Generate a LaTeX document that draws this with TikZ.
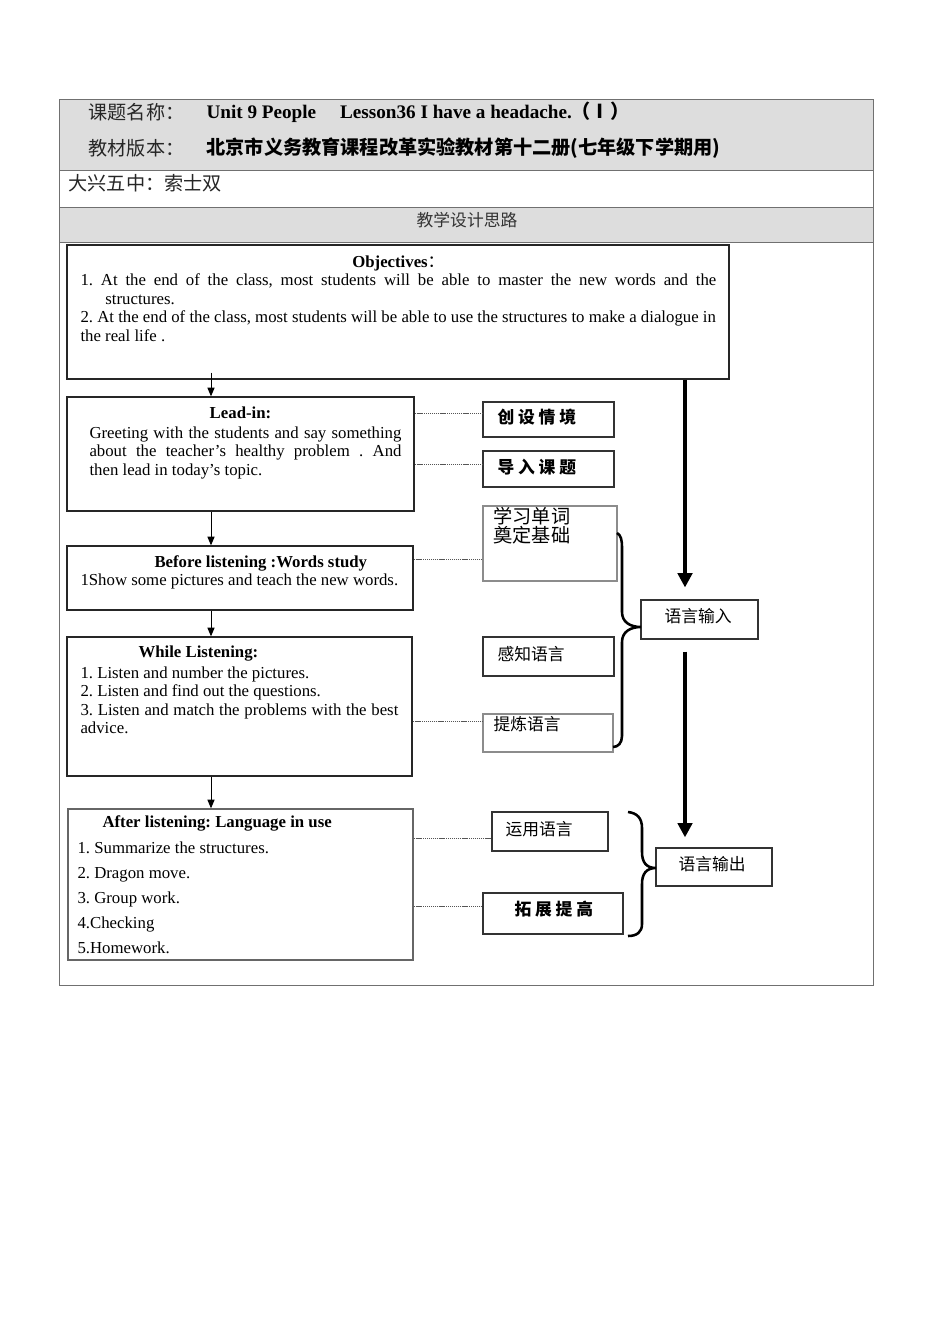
\documentclass[tikz,border=0pt]{standalone}
\usepackage{fontspec}
\setmainfont{Liberation Serif}
\newfontfamily\cjk{Noto Sans CJK SC}
\usetikzlibrary{arrows.meta,fit}
\definecolor{rowgray}{HTML}{DDDDDD}
\definecolor{rulegray}{HTML}{707070}
\definecolor{dotgray}{HTML}{555555}
\frenchspacing

\begin{document}
\begin{tikzpicture}[x=0.626pt,y=0.626pt,yscale=-1,xscale=1,
  rulebox/.style={draw=rulegray,line width=0.6pt},
  stagebox/.style={draw=black!85,line width=0.8pt,inner sep=0pt},
  tagbox/.style={draw=black!80,line width=0.7pt,inner sep=0pt},
  palebox/.style={draw=black!45,line width=0.7pt,inner sep=0pt},
  flowarrow/.style={line width=0.6pt,-{Triangle[width=4.5pt,length=5.5pt]}},
  bigarrow/.style={line width=2.5pt,-{Triangle[width=9pt,length=9pt]}},
  tieline/.style={draw=dotgray,line width=0.7pt,dash pattern=on 0.7pt off 0.5pt},
  bracepath/.style={line width=1.6pt},
  entext/.style={inner sep=0.75pt,font=\fontsize{10.5}{11.6}\selectfont},
  cjktext/.style={inner sep=0.75pt,font=\cjk\fontsize{10.5}{12}\selectfont},
  cjkbig/.style={inner sep=0.75pt,text=black!85,font=\cjk\fontsize{12}{14}\selectfont}]
%set diagram to the page: 950 x 1344
\useasboundingbox (0,0) rectangle (950,1344);

%Shape: Rectangle [table rows]
\draw[rulebox,fill=rowgray] (59,99) rectangle (873,170);
\draw[rulebox] (59,170) rectangle (873,207);
\draw[rulebox,fill=rowgray] (59,207) rectangle (873,242);
\draw[rulebox] (59,242) rectangle (873,985);

%Shape: Rectangle [stages]
\node[stagebox,fit={(67,245) (729,379)}] (obj) {};
\node[stagebox,fit={(67,397) (414,511)}] (lead) {};
\node[stagebox,fit={(67,546) (413,610)}] (before) {};
\node[stagebox,fit={(67,637) (412,776)}] (while) {};
\node[stagebox,draw=black!60,fit={(68,809) (413,960)}] (after) {};
%Shape: Rectangle [tags]
\node[tagbox,fit={(483,402) (614,437)}] (sit) {};
\node[tagbox,fit={(483,451) (614,487)}] (topic) {};
\node[palebox,fit={(483,506) (617,581)}] (word) {};
\node[tagbox,fit={(483,637) (614,676)}] (perc) {};
\node[palebox,fit={(483,714) (613,752)}] (refine) {};
\node[tagbox,fit={(492,812) (608,851)}] (apply) {};
\node[tagbox,fit={(483,893) (623,934)}] (extend) {};
\node[tagbox,fit={(641,600) (758,639)}] (input) {};
\node[tagbox,fit={(656,848) (772,886)}] (output) {};

\coordinate (spine) at (211,0);
\coordinate (trunk) at (685,0);

%Straight Lines [thin flow]
\draw[flowarrow,shorten <=-4.4pt] (obj.south -| spine) -- (lead.north -| spine);
\draw[flowarrow] (lead.south -| spine) -- (before.north -| spine);
\draw[flowarrow] (before.south -| spine) -- (while.north -| spine);
\draw[flowarrow] (while.south -| spine) -- (after.north -| spine);
%Straight Lines [thick flow]
\draw[bigarrow,shorten >=7.5pt] (obj.south -| trunk) -- (input.north -| trunk);
\draw[bigarrow,shorten <=7.5pt,shorten >=6.3pt] (input.south -| trunk) -- (output.north -| trunk);
%Straight Lines [dotted ties]
\draw[tieline] (sit.175 -| lead.east) -- (sit.175);
\draw[tieline] (topic.176 -| lead.east) -- (topic.176);
\draw[tieline] (word.193 -| before.east) -- (word.193);
\draw[tieline] (refine.170 -| while.east) -- (refine.170);
\draw[tieline] (apply.187 -| after.east) -- (apply.187);
\draw[tieline] (extend.174 -| after.east) -- (extend.174);

%Curve Lines [braces]
\draw[bracepath] (617,533) .. controls (621,535) and (622,540) .. (622,548) -- (622,612) .. controls (622,622) and (630,627) .. (641,627) .. controls (630,627) and (622,632) .. (622,642) -- (622,736) .. controls (622,743) and (618,747) .. (613,747);
\draw[bracepath] (628,812) .. controls (637,813) and (642,818) .. (642,828) -- (642,852) .. controls (642,862) and (646,868) .. (656,868) .. controls (646,868) and (642,874) .. (642,884) -- (642,924) .. controls (642,932) and (637,936) .. (628,936);

% Text Node
\draw (87,112) node [anchor=west][cjkbig] (course) {课题名称：};
% Text Node
\draw (205,112) node [anchor=west][entext,font=\bfseries\fontsize{12}{14}\selectfont] (lesson) {Unit 9 People\hspace{15pt}Lesson36 I have a headache.{\cjk （Ⅰ）}};
% Text Node
\draw (87,148) node [anchor=west][cjkbig] (edition) {教材版本：};
% Text Node
\draw (205,148) node [anchor=west][cjkbig,text=black,font=\cjk\bfseries\fontsize{12}{14}\selectfont] (press) {北京市义务教育课程改革实验教材第十二册(七年级下学期用)};
% Text Node
\draw (67,183) node [anchor=west][cjkbig] (school) {大兴五中：索士双};
% Text Node
\draw (467,220) node [cjktext,text=black!80] (design) {教学设计思路};

% Text Node
\draw (79,254) node [anchor=north west][entext,align=left] (objtext) {\makebox[398pt]{\bfseries Objectives{\cjk\mdseries ：}}\\
\makebox[398pt][s]{1. At the end of the class, most students will be able to master the new words and the}\\
\hspace*{15.6pt}structures.\\
2. At the end of the class, most students will be able to use the structures to make a dialogue in\\
the real life .};
% Text Node
\draw (lead.north |- 0,413) node [entext,font=\bfseries\fontsize{10.5}{11.6}\selectfont] (leadtitle) {Lead-in:};
% Text Node
\draw (88,425) node [anchor=north west][entext,align=left] (leadtext) {\makebox[195.3pt][s]{Greeting with the students and say something}\\
\makebox[195.3pt][s]{about the teacher’s healthy problem . And}\\
then lead in today’s topic.};
% Text Node
\draw (153,563) node [anchor=west][entext,font=\bfseries\fontsize{10.5}{11.6}\selectfont] (beforetitle) {Before listening :Words study};
% Text Node
\draw (79,581) node [anchor=west][entext] (beforetext) {1Show some pictures and teach the new words.};
% Text Node
\draw (137,654) node [anchor=west][entext,font=\bfseries\fontsize{10.5}{11.6}\selectfont] (whiletitle) {While Listening:};
% Text Node
\draw (79,665) node [anchor=north west][entext,align=left] (whiletext) {1. Listen and number the pictures.\\
2. Listen and find out the questions.\\
\makebox[199pt][s]{3. Listen and match the problems with the best}\\
advice.};
% Text Node
\draw (101,823) node [anchor=west][entext,font=\bfseries\fontsize{10.5}{11.6}\selectfont] (aftertitle) {After listening: Language in use};
% Text Node
\draw (76,840) node [anchor=north west][entext,align=left,font=\fontsize{10.5}{15.65}\selectfont] (aftertext) {1. Summarize the structures.\\
2. Dragon move.\\
3. Group work.\\
4.Checking\\
5.Homework.};

% Text Node
\draw (496,417) node [anchor=west][cjktext,font=\cjk\bfseries\fontsize{10.5}{12}\selectfont] (sittext) {创 设 情 境};
% Text Node
\draw (496,467) node [anchor=west][cjktext,font=\cjk\bfseries\fontsize{10.5}{12}\selectfont] (topictext) {导 入 课 题};
% Text Node
\draw (492,506) node [anchor=north west][cjktext,align=left,font=\cjk\fontsize{12}{11.9}\selectfont] (wordtext) {学习单词\\奠定基础};
% Text Node
\draw (496,654) node [anchor=west][cjktext] (perctext) {感知语言};
% Text Node
\draw (492,724) node [anchor=west][cjktext] (refinetext) {提炼语言};
% Text Node
\draw (504,829) node [anchor=west][cjktext] (applytext) {运用语言};
% Text Node
\draw (513,909) node [anchor=west][cjktext,font=\cjk\bfseries\fontsize{10.5}{12}\selectfont] (extendtext) {拓 展 提 高};
% Text Node
\draw (663,616) node [anchor=west][cjktext] (inputtext) {语言输入};
% Text Node
\draw (677,864) node [anchor=west][cjktext] (outputtext) {语言输出};

\end{tikzpicture}
\end{document}
